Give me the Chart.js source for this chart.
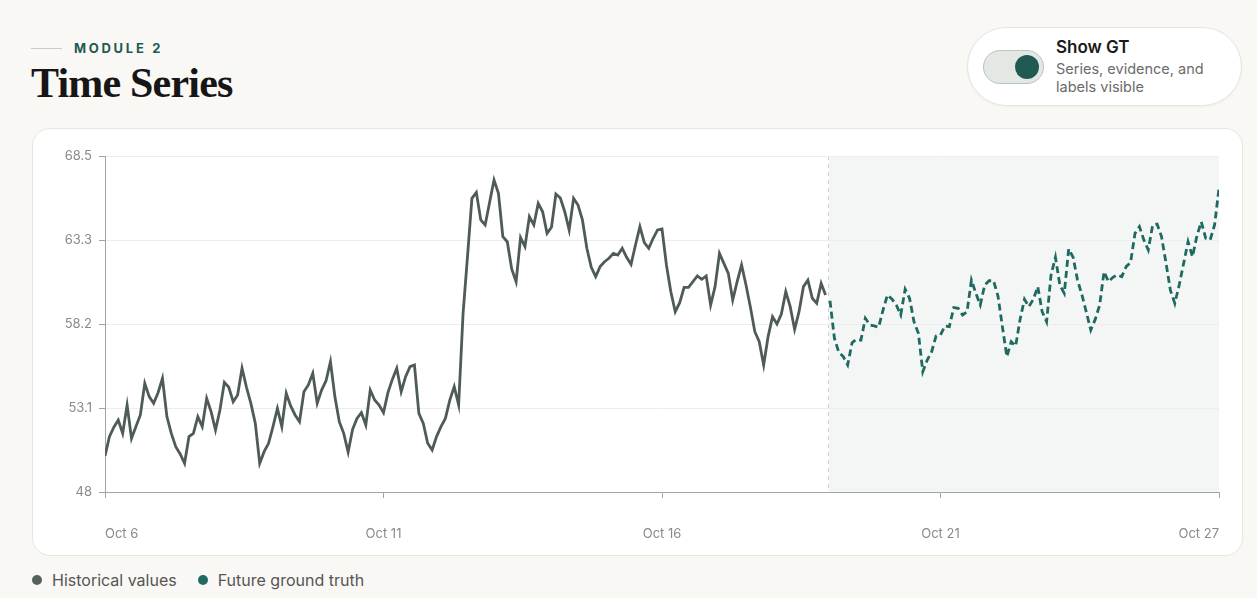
<!DOCTYPE html>
<html>
<head>
<meta charset="utf-8">
<title>Time Series</title>
<script src="https://cdn.jsdelivr.net/npm/chart.js@4.4.1/dist/chart.umd.min.js"></script>
<style>
    body {
        margin: 0;
        width: 1257px;
        height: 598px;
        position: relative;
        overflow: hidden;
        background: #faf8f4;
        font-family: Inter, "Noto Sans", sans-serif;
    }
    .eyebrow-line {
        position: absolute; left: 31px; top: 48px;
        width: 31px; height: 1px; background: #c9ccc8;
    }
    .eyebrow {
        position: absolute; left: 74px; top: 42px;
        font-size: 13px; line-height: 13px; font-weight: 700;
        letter-spacing: 2.7px; color: #1f5a53;
    }
    .title {
        position: absolute; left: 31px; top: 62px;
        font-family: "Liberation Serif", "DejaVu Serif", serif;
        font-size: 42px; line-height: 42px; font-weight: 700;
        letter-spacing: -0.8px; color: #161616;
    }
    .toggle {
        position: absolute; left: 967px; top: 27px;
        width: 273px; height: 77px;
        background: #fff; border: 1px solid #e6e4de; border-radius: 40px;
        box-shadow: 0 1px 3px rgba(0,0,0,0.04);
    }
    .track {
        position: absolute; left: 15px; top: 22px;
        width: 59px; height: 32px;
        background: #e3e8e5; border: 1px solid #b9c4bf; border-radius: 17px;
    }
    .knob {
        position: absolute; left: 31px; top: 4px;
        width: 24px; height: 24px; border-radius: 50%;
        background: #1f5a53;
    }
    .toggle .head {
        position: absolute; left: 88px; top: 9px;
        font-size: 17px; line-height: 20px; font-weight: 600; color: #1a1a1a;
    }
    .toggle .sub {
        position: absolute; left: 88px; top: 32px;
        font-size: 14.5px; line-height: 18px; color: #6b6b6b;
    }
    .card {
        position: absolute; left: 32px; top: 128px;
        width: 1209px; height: 426px;
        background: #fff; border: 1px solid #e7e5df; border-radius: 18px;
    }
    #chart {
        position: absolute; left: 32px; top: 128px;
    }
    .legend {
        position: absolute; left: 32px; top: 570px;
        font-size: 16px; line-height: 20px; color: #555;
        display: flex; align-items: center;
    }
    .legend .dot {
        width: 10px; height: 10px; border-radius: 50%;
        display: inline-block; margin-right: 10px;
    }
    .legend .item { display: flex; align-items: center; margin-right: 21px; }
</style>
</head>
<body>
<div class="eyebrow-line"></div>
<div class="eyebrow">MODULE 2</div>
<div class="title">Time Series</div>

<div class="toggle">
    <div class="track"><div class="knob"></div></div>
    <div class="head">Show GT</div>
    <div class="sub">Series, evidence, and<br>labels visible</div>
</div>

<div class="card"></div>
<canvas id="chart" width="1211" height="428"></canvas>

<div class="legend">
    <span class="item"><span class="dot" style="background:#56615c"></span>Historical values</span>
    <span class="item"><span class="dot" style="background:#1f6b62"></span>Future ground truth</span>
</div>

<script>
// one value every 2 hours, Oct 6 00:00 -> Oct 27 00:00
const history = [
    50.20, 51.38, 51.95, 52.39, 51.58, 53.31, 51.27, 51.99, 52.70, 54.63,
    53.82, 53.41, 54.06, 54.94, 52.60, 51.58, 50.77, 50.32, 49.75, 51.38,
    51.58, 52.60, 51.99, 53.71, 52.90, 51.78, 53.00, 54.69, 54.39, 53.51,
    53.92, 55.55, 54.39, 53.41, 52.19, 49.75, 50.46, 50.97, 51.99, 53.10,
    51.99, 54.02, 53.25, 52.70, 52.29, 54.12, 54.53, 55.24, 53.41, 54.22,
    54.79, 55.95, 53.82, 52.29, 51.58, 50.44, 51.82, 52.49, 52.84, 52.09,
    54.22, 53.61, 53.31, 52.84, 54.06, 54.87, 55.55, 54.12, 55.04, 55.65,
    55.75, 52.80, 52.19, 50.97, 50.56, 51.38, 51.99, 52.49, 53.61, 54.43,
    53.31, 58.90, 62.36, 65.92, 66.28, 64.60, 64.29, 65.67, 67.04, 66.22,
    63.58, 63.27, 61.61, 60.83, 63.52, 62.97, 64.80, 64.29, 65.61, 65.10,
    63.78, 64.15, 66.18, 65.94, 65.10, 63.99, 65.92, 65.51, 64.60, 62.87,
    61.71, 61.14, 61.75, 62.05, 62.26, 62.56, 62.46, 62.87, 62.32, 61.89,
    63.07, 64.19, 63.21, 62.87, 63.48, 63.99, 64.05, 61.85, 60.22, 59.00,
    59.55, 60.49, 60.49, 60.83, 61.18, 60.98, 61.18, 59.41, 60.53, 62.56,
    61.95, 61.34, 59.71, 60.83, 61.85, 60.63, 59.27, 57.78, 57.17, 55.75,
    57.48, 58.70, 58.25, 58.86, 60.22, 59.31, 57.92, 59.00, 60.53, 60.93,
    59.82, 59.51, 60.73, 60.02
];

const future = [
    59.67, 57.38, 56.52, 56.26, 55.75, 57.11, 57.31, 57.27, 58.60, 58.19,
    58.13, 58.05, 59.10, 60.02, 59.78, 59.41, 58.80, 60.37, 59.82, 58.39,
    57.68, 55.34, 56.05, 56.56, 57.52, 57.58, 58.13, 58.09, 59.25, 59.21,
    58.80, 59.00, 60.93, 60.12, 59.41, 60.63, 60.89, 60.89, 59.96, 58.09,
    56.26, 57.17, 56.91, 58.53, 59.76, 59.31, 59.76, 60.53, 59.00, 58.39,
    61.24, 62.32, 60.63, 60.12, 62.83, 62.32, 60.93, 60.02, 58.96, 57.88,
    58.53, 59.41, 61.44, 60.83, 61.10, 61.24, 61.14, 61.75, 62.01, 63.78,
    64.19, 63.38, 62.77, 64.29, 64.35, 63.58, 61.99, 60.32, 59.51, 60.63,
    61.95, 63.27, 62.36, 63.62, 64.49, 63.48, 63.38, 64.29, 66.53
];

const xTickIndex = [0, 63, 126, 189, 252];
const xTickLabels = ['Oct 6', 'Oct 11', 'Oct 16', 'Oct 21', 'Oct 27'];
const yTicks = [48, 53.125, 58.25, 63.375, 68.5];
const yTickLabels = ['48', '53.1', '58.2', '63.3', '68.5'];

const histPoints = history.map((v, i) => ({ x: i, y: v }));
const futurePoints = future.map((v, i) => ({ x: history.length + i, y: v }));
const lastIndex = history.length + future.length - 1;

const axisFont = { family: 'Inter', size: 13 };

// light panel behind the forecast window + dashed divider
const futureShade = {
    id: 'futureShade',
    beforeDraw(chart) {
        const { ctx, chartArea, scales } = chart;
        const xs = Math.round(scales.x.getPixelForValue(history.length - 0.5)) + 0.5;
        ctx.save();
        ctx.fillStyle = '#f3f6f5';
        ctx.fillRect(xs, chartArea.top, chartArea.right - xs, chartArea.bottom - chartArea.top);
        ctx.strokeStyle = '#cfd2d0';
        ctx.lineWidth = 1;
        ctx.setLineDash([4, 4]);
        ctx.beginPath();
        ctx.moveTo(xs, chartArea.top);
        ctx.lineTo(xs, chartArea.bottom);
        ctx.stroke();
        ctx.restore();
    }
};

const ctx = document.getElementById('chart').getContext('2d');

window.tsChart = new Chart(ctx, {
    type: 'line',
    data: {
        datasets: [
            {
                label: 'Historical values',
                data: histPoints,
                borderColor: '#4f5b56',
                borderWidth: 2.8,
                pointRadius: 0,
                tension: 0
            },
            {
                label: 'Future ground truth',
                data: futurePoints,
                borderColor: '#1e6a61',
                borderWidth: 2.8,
                borderDash: [7, 4],
                pointRadius: 0,
                tension: 0
            }
        ]
    },
    options: {
        responsive: false,
        animation: false,
        layout: { padding: { top: 28, right: 24, left: 0, bottom: 0 } },
        scales: {
            x: {
                type: 'linear',
                min: 0,
                max: lastIndex,
                afterBuildTicks: s => { s.ticks = xTickIndex.map(v => ({ value: v })); },
                afterFit: s => {
                    s.height = 64;
                    // labels sit far below the axis; don't let that gap eat side space
                    s.paddingLeft = 0;
                    s.paddingRight = 0;
                },
                ticks: {
                    align: 'inner',
                    padding: 28,
                    maxRotation: 0,
                    autoSkip: false,
                    color: '#8a8a8a',
                    font: axisFont,
                    callback: v => xTickLabels[xTickIndex.indexOf(v)]
                },
                grid: { drawOnChartArea: false, tickLength: 6, tickColor: '#a3a3a3' },
                border: { color: '#a3a3a3' }
            },
            y: {
                min: 48,
                max: 68.5,
                afterBuildTicks: s => { s.ticks = yTicks.map(v => ({ value: v })); },
                afterFit: s => { s.width = 73; },
                ticks: {
                    padding: 7,
                    color: '#8a8a8a',
                    font: axisFont,
                    callback: v => yTickLabels[yTicks.indexOf(v)]
                },
                grid: { color: '#ededed', tickLength: 6, tickColor: '#a3a3a3' },
                border: { color: '#a3a3a3' }
            }
        },
        plugins: {
            legend: { display: false },
            tooltip: { enabled: false }
        }
    },
    plugins: [futureShade]
});
</script>
</body>
</html>
